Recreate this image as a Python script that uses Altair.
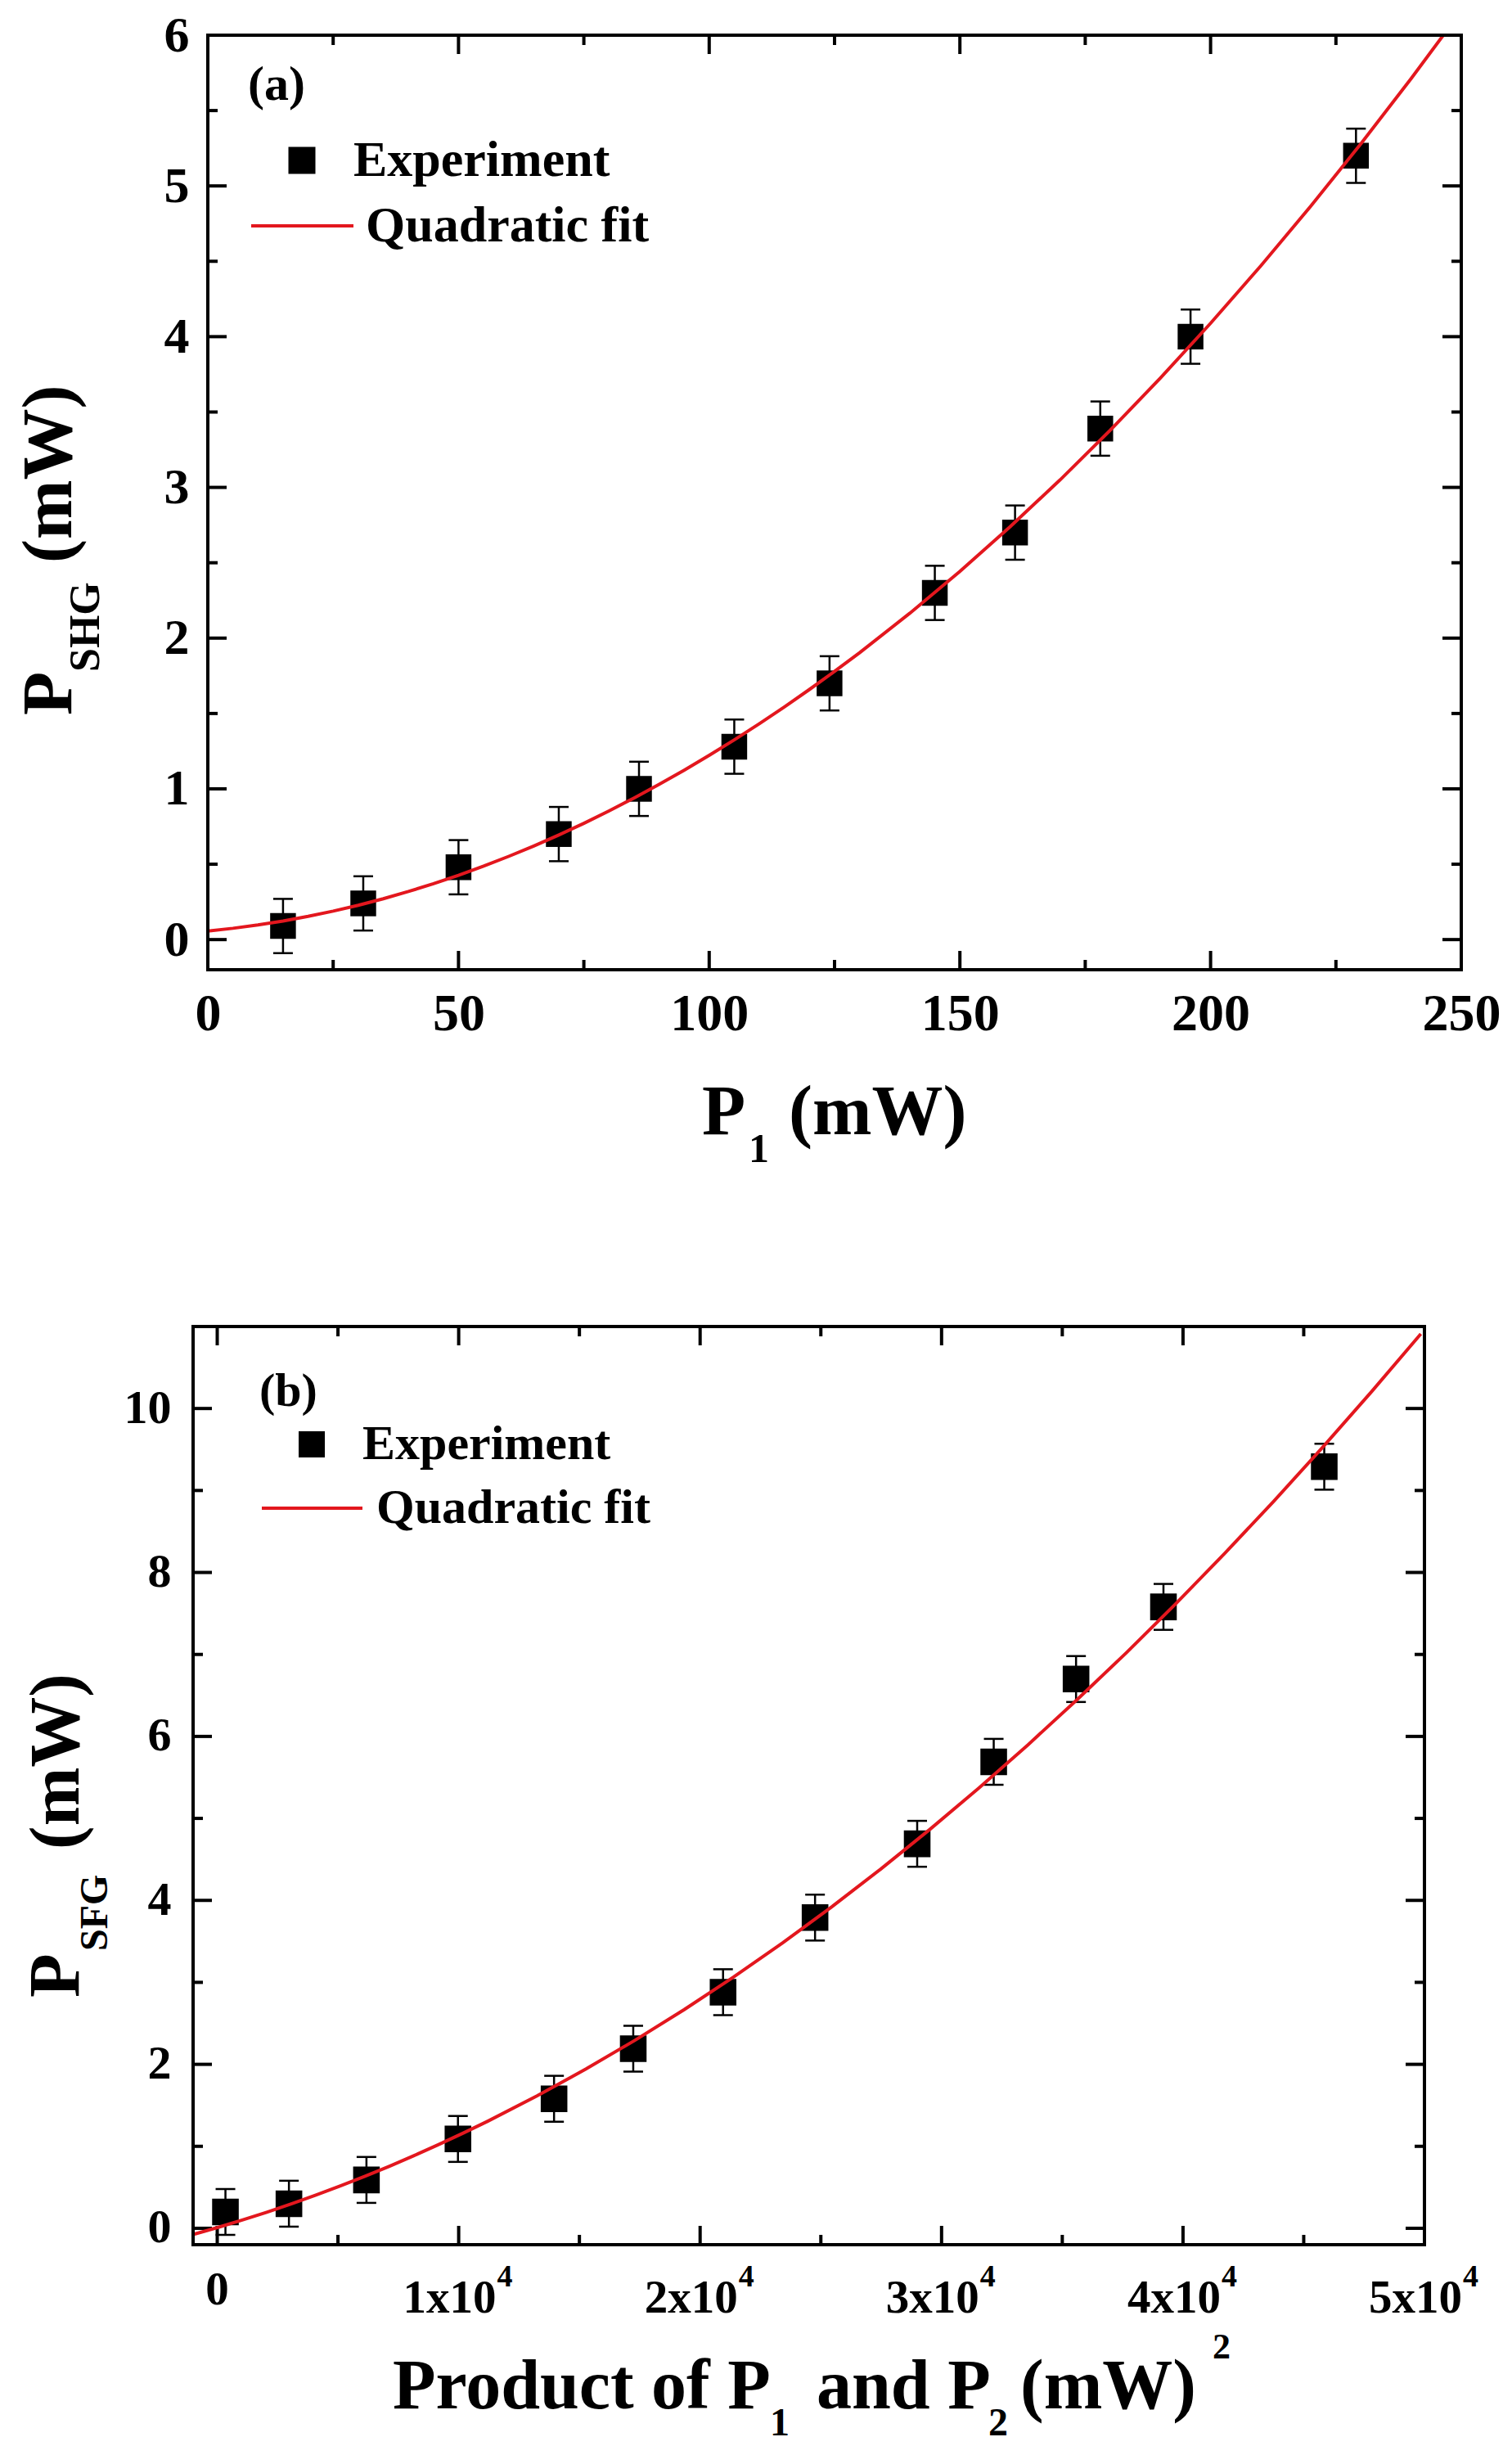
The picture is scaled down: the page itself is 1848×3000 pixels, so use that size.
import altair as alt
import pandas as pd

FONT = "Liberation Serif"
RED = "#e3171e"

# (a) second harmonic power vs fundamental power
shg_p1 = [15, 31, 50, 70, 86, 105, 124, 145, 161, 178, 196, 229]
shg_power = [0.09, 0.24, 0.48, 0.70, 1.00, 1.28, 1.70, 2.30, 2.70, 3.39, 4.00, 5.20]
shg_err = [0.18, 0.18, 0.18, 0.18, 0.18, 0.18, 0.18, 0.18, 0.18, 0.18, 0.18, 0.18]
shg_x_major = [0, 50, 100, 150, 200, 250]
shg_x_minor = [25, 75, 125, 175, 225]
shg_y_major = [0, 1, 2, 3, 4, 5, 6]
shg_y_minor = [0.5, 1.5, 2.5, 3.5, 4.5, 5.5]

# (b) sum frequency power vs product of the two input powers
sfg_product = [340, 2970, 6180, 9970, 13950, 17230, 20950, 24760, 28990, 32160, 35570, 39190, 45850]
sfg_power = [0.20, 0.30, 0.59, 1.09, 1.58, 2.19, 2.88, 3.79, 4.69, 5.69, 6.70, 7.58, 9.29]
sfg_err = [0.28, 0.28, 0.28, 0.28, 0.28, 0.28, 0.28, 0.28, 0.28, 0.28, 0.28, 0.28, 0.28]
sfg_x_major = [0, 10000, 20000, 30000, 40000, 50000]
sfg_x_minor = [5000, 15000, 25000, 35000, 45000]
sfg_y_major = [0, 2, 4, 6, 8, 10]
sfg_y_minor = [1, 3, 5, 7, 9]
sfg_tick_vals = [10000, 20000, 30000, 40000, 50000]
sfg_tick_text = ["1x10", "2x10", "3x10", "4x10", "5x10"]

one = pd.DataFrame({"k": [0]})


def text(txt, x, y, size, angle=0, align="left"):
    return (
        alt.Chart(one)
        .mark_text(text=txt, font=FONT, fontWeight="bold", fontSize=size, align=align,
                   baseline="alphabetic", angle=angle, color="black")
        .encode(x=alt.value(x), y=alt.value(y))
    )


def spacer(x, y1, y2):
    # invisible rule that pins the layout bounds of a panel
    return alt.Chart(one).mark_rule(color="white", strokeWidth=0.1).encode(
        x=alt.value(x), y=alt.value(y1), y2=alt.value(y2))


def panel(px, py, err, W, H, xdom, ydom, xmaj, xmin, ymaj, ymin, ylab_size, ylab_pad,
          xlabels=True, sq=1000, ox=0, fit_extent=None, clip=True):
    xaxis = alt.Axis(values=xmaj, title=None, ticks=False, tickSize=0, domain=False, grid=False,
                     labels=xlabels, labelFlush=False, labelFontSize=64, labelPadding=22)
    yaxis = alt.Axis(values=ymaj, title=None, ticks=False, tickSize=0, domain=False, grid=False,
                     labelFlush=False, labelFontSize=ylab_size, labelPadding=ylab_pad)

    def xs(f):
        return alt.X(f"{f}:Q", scale=alt.Scale(domain=xdom, range=[ox, W + ox], nice=False, zero=False),
                     axis=xaxis)

    def ys(f):
        return alt.Y(f"{f}:Q", scale=alt.Scale(domain=ydom, nice=False, zero=False), axis=yaxis)

    df = pd.DataFrame({"x": px, "y": py, "e": err})
    df["lo"] = df["y"] - df["e"]
    df["hi"] = df["y"] + df["e"]

    layers = []
    # inward ticks on all four sides
    for vals, L in ((xmaj, 23), (xmin, 12)):
        d = alt.Chart(pd.DataFrame({"x": vals})).mark_rule(color="black", strokeWidth=4)
        layers.append(d.encode(x=xs("x"), y=alt.value(H), y2=alt.value(H - L)))
        layers.append(d.encode(x=xs("x"), y=alt.value(0), y2=alt.value(L)))
    for vals, L in ((ymaj, 23), (ymin, 12)):
        d = alt.Chart(pd.DataFrame({"y": vals})).mark_rule(color="black", strokeWidth=4)
        layers.append(d.encode(y=ys("y"), x=alt.value(ox), x2=alt.value(ox + L)))
        layers.append(d.encode(y=ys("y"), x=alt.value(W + ox), x2=alt.value(W + ox - L)))

    base = alt.Chart(df)
    layers.append(base.mark_rule(color="black", strokeWidth=2.5).encode(x=xs("x"), y=ys("lo"), y2="hi:Q"))
    cap = base.mark_tick(orient="horizontal", size=24, thickness=2.5, color="black", opacity=1)
    layers.append(cap.encode(x=xs("x"), y=ys("lo")))
    layers.append(cap.encode(x=xs("x"), y=ys("hi")))
    layers.append(base.mark_square(size=sq, color="black", opacity=1).encode(x=xs("x"), y=ys("y")))
    layers.append(
        base.transform_regression("x", "y", method="poly", order=2, extent=fit_extent or xdom)
        .mark_line(color=RED, strokeWidth=4, clip=clip)
        .encode(x=xs("x"), y=ys("y"))
    )
    # frame
    layers.append(
        alt.Chart(one).mark_rect(fillOpacity=0, stroke="black", strokeWidth=4)
        .encode(x=alt.value(ox), x2=alt.value(W + ox), y=alt.value(0), y2=alt.value(H))
    )
    return layers, xs, ys


# ---------- panel (a)
Wa, Ha = 1532, 1142
la, xsa, ysa = panel(shg_p1, shg_power, shg_err, Wa, Ha, [0, 250], [-0.2, 6],
                     shg_x_major, shg_x_minor, shg_y_major, shg_y_minor, 62, 23, sq=990)
la += [
    text("(a)", 49, 79, 60),
    alt.Chart(one).mark_square(size=1089, color="black", opacity=1).encode(x=alt.value(115), y=alt.value(153)),
    text("Experiment", 178, 172, 62),
    alt.Chart(one).mark_rule(color=RED, strokeWidth=4).encode(x=alt.value(53), x2=alt.value(178), y=alt.value(233)),
    text("Quadratic fit", 193, 252, 62),
    # x title
    text("P", 604, 1343, 87),
    text("1", 661, 1377, 50),
    text("(mW)", 710, 1343, 87),
    # y title
    text("P", -167, 831, 87, angle=270),
    text("SHG", -133, 778, 52, angle=270),
    text("(mW)", -167, 645, 87, angle=270),
    spacer(-239, -30, 1400),
]
chart_a = alt.layer(*la).properties(width=Wa, height=Ha)

# ---------- panel (b), drawn 18px left of the shared column origin
OX = -18
Wb, Hb = 1505, 1122
lb, xsb, ysb = panel(sfg_product, sfg_power, sfg_err, Wb, Hb, [-1000, 50000], [-0.2, 11],
                     sfg_x_major, sfg_x_minor, sfg_y_major, sfg_y_minor, 58, 27 - OX,
                     xlabels=False, sq=1060, ox=OX, fit_extent=[-1000, 49850], clip=False)
ticks_b = pd.DataFrame({"x": sfg_tick_vals, "t": sfg_tick_text})
lb += [
    alt.Chart(pd.DataFrame({"x": [0]})).mark_text(text="0", font=FONT, fontWeight="bold", fontSize=57,
                                                  align="center", baseline="alphabetic", color="black")
    .encode(x=xsb("x"), y=alt.value(Hb + 73)),
    alt.Chart(ticks_b).mark_text(font=FONT, fontWeight="bold", fontSize=57, align="center", dx=-11,
                                 baseline="alphabetic", color="black")
    .encode(x=xsb("x"), y=alt.value(Hb + 83), text="t:N"),
    alt.Chart(ticks_b).mark_text(text="4", font=FONT, fontWeight="bold", fontSize=38, align="left", dx=47,
                                 baseline="alphabetic", color="black")
    .encode(x=xsb("x"), y=alt.value(Hb + 51)),
    text("(b)", OX + 81, 97, 58),
    alt.Chart(one).mark_square(size=1024, color="black", opacity=1).encode(x=alt.value(OX + 145), y=alt.value(144)),
    text("Experiment", OX + 207, 162, 60),
    alt.Chart(one).mark_rule(color=RED, strokeWidth=4).encode(
        x=alt.value(OX + 84), x2=alt.value(OX + 207), y=alt.value(222)),
    text("Quadratic fit", OX + 224, 240, 60),
    # x title
    text("Product of P", OX + 244, 1322, 86),
    text("1", OX + 705, 1355, 48),
    text("and P", OX + 762, 1322, 86),
    text("2", OX + 972, 1355, 48),
    text("(mW)", OX + 1011, 1322, 86),
    text("2", OX + 1246, 1261, 44),
    # y title
    text("P", OX - 140, 820, 88, angle=270),
    text("SFG", OX - 105, 763, 48, angle=270),
    text("(mW)", OX - 140, 639, 86, angle=270),
    spacer(-239, -30, 1360),
]
chart_b = alt.layer(*lb).properties(width=Wb, height=Hb)

chart = (
    alt.concat(chart_a, chart_b, columns=1, align="none", spacing=146)
    .properties(padding={"left": 6, "top": 3, "right": 5, "bottom": 5}, background="white")
    .configure_view(stroke="transparent")
    .configure_axis(labelFont=FONT, labelFontWeight="bold", labelColor="black")
)

chart.save("out.html", embed_options={"renderer": "svg", "actions": False})
